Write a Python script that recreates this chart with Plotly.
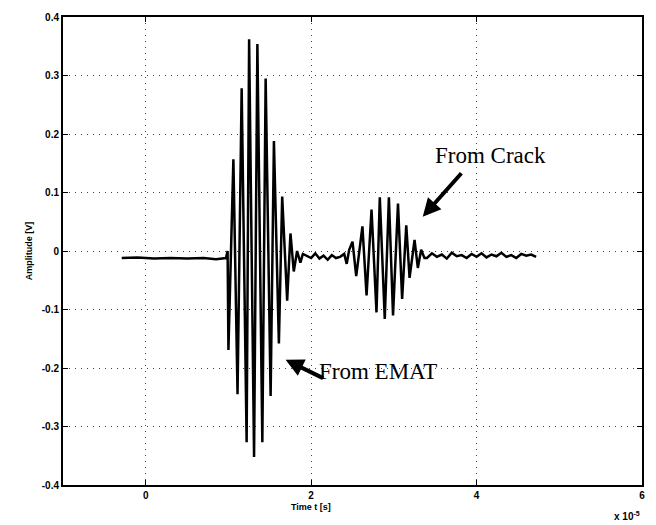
import plotly.graph_objects as go

# Time in units of 1e-5 s, amplitude in V
time_pre = [-0.29, -0.10, 0.10, 0.30, 0.50, 0.70, 0.85, 0.97, 0.99]
amp_pre = [-0.012, -0.011, -0.013, -0.012, -0.013, -0.012, -0.014, -0.012, 0.0]

time_emat = [1.00, 1.06, 1.11, 1.16, 1.22, 1.25, 1.31, 1.35, 1.41, 1.45, 1.51, 1.55,
             1.61, 1.65, 1.71, 1.75, 1.79, 1.83, 1.87, 1.90]
amp_emat = [-0.169, 0.157, -0.245, 0.278, -0.327, 0.362, -0.352, 0.354, -0.327, 0.295,
            -0.248, 0.188, -0.158, 0.093, -0.085, 0.030, -0.035, 0.000, -0.020, -0.005]

time_mid = [1.95, 2.00, 2.05, 2.10, 2.15, 2.20, 2.25, 2.30, 2.35, 2.40, 2.43, 2.46]
amp_mid = [-0.008, -0.012, -0.004, -0.013, -0.008, -0.015, -0.007, -0.012, -0.010, -0.005, -0.022, 0.002]

time_crack = [2.50, 2.545, 2.62, 2.67, 2.73, 2.79, 2.83, 2.89, 2.94, 2.99, 3.05, 3.10,
              3.15, 3.19, 3.25, 3.29, 3.33, 3.37]
amp_crack = [0.016, -0.043, 0.042, -0.076, 0.071, -0.105, 0.092, -0.116, 0.092, -0.110,
             0.081, -0.082, 0.044, -0.046, 0.019, -0.029, 0.002, -0.012]

time_post = [3.40, 3.46, 3.52, 3.58, 3.64, 3.70, 3.76, 3.82, 3.88, 3.94, 4.00, 4.06,
             4.12, 4.18, 4.24, 4.30, 4.36, 4.42, 4.48, 4.54, 4.60, 4.66, 4.72]
amp_post = [-0.012, -0.004, -0.010, -0.006, -0.013, -0.003, -0.009, -0.007, -0.012, -0.005,
            -0.010, -0.004, -0.011, -0.006, -0.009, -0.003, -0.010, -0.007, -0.012, -0.005,
            -0.008, -0.006, -0.010]

x_ticks = [0, 2, 4, 6]
y_ticks = [-0.4, -0.3, -0.2, -0.1, 0, 0.1, 0.2, 0.3, 0.4]
y_labels = ["-0.4", "-0.3", "-0.2", "-0.1", "0", "0.1", "0.2", "0.3", "0.4"]

t = time_pre + time_emat + time_mid + time_crack + time_post
a = amp_pre + amp_emat + amp_mid + amp_crack + amp_post

fig = go.Figure()
fig.add_trace(go.Scatter(x=t, y=a, mode="lines",
                         line=dict(color="black", width=2.5), showlegend=False))

axfont = dict(family="Liberation Sans, Arial", size=10, color="black", weight="bold")
grid_dash = "1px,5px"

fig.update_xaxes(range=[-1, 6], tickvals=x_ticks, ticktext=[str(v) for v in x_ticks],
                 showgrid=True, gridcolor="#444", griddash=grid_dash, gridwidth=1,
                 zeroline=False, showline=True, linecolor="black", linewidth=2,
                 mirror="ticks", ticks="inside", ticklen=5, tickcolor="black",
                 tickfont=axfont)
fig.update_yaxes(range=[-0.4, 0.4], tickvals=y_ticks, ticktext=y_labels,
                 showgrid=True, gridcolor="#444", griddash=grid_dash, gridwidth=1,
                 zeroline=False, showline=True, linecolor="black", linewidth=2,
                 mirror="ticks", ticks="inside", ticklen=5, tickcolor="black",
                 tickfont=axfont,
                 title=dict(text="Amplitude [V]", font=dict(family="Liberation Sans, Arial", size=9,
                                                            color="black", weight="bold"), standoff=8))

serif = dict(family="Liberation Serif, Times New Roman", size=23, color="black")
fig.add_annotation(x=3.349, y=0.0586, ax=40, ay=-45, text="", showarrow=True,
                   arrowhead=2, arrowsize=0.9, arrowwidth=4, arrowcolor="black")
fig.add_annotation(x=1.691, y=-0.186, ax=39, ay=19, text="", showarrow=True,
                   arrowhead=2, arrowsize=0.9, arrowwidth=4, arrowcolor="black")
fig.add_annotation(x=4.167, y=0.164, text="From Crack", showarrow=False, font=serif)
fig.add_annotation(x=2.814, y=-0.206, text="From EMAT", showarrow=False, font=serif)

fig.add_annotation(xref="x", yref="paper", x=2.0, y=-0.048, yanchor="middle",
                   text="Time t [s]", showarrow=False,
                   font=dict(family="Liberation Sans, Arial", size=9, color="black", weight="bold"))
fig.add_annotation(xref="paper", yref="paper", x=1.0, y=-0.066, xanchor="right", yanchor="middle",
                   text="x 10<sup>-5</sup>", showarrow=False,
                   font=dict(family="Liberation Sans, Arial", size=10, color="black", weight="bold"))

fig.update_layout(width=656, height=525, margin=dict(l=63, r=13, t=11, b=40),
                  plot_bgcolor="white", paper_bgcolor="white")

fig.write_html("out.html")
